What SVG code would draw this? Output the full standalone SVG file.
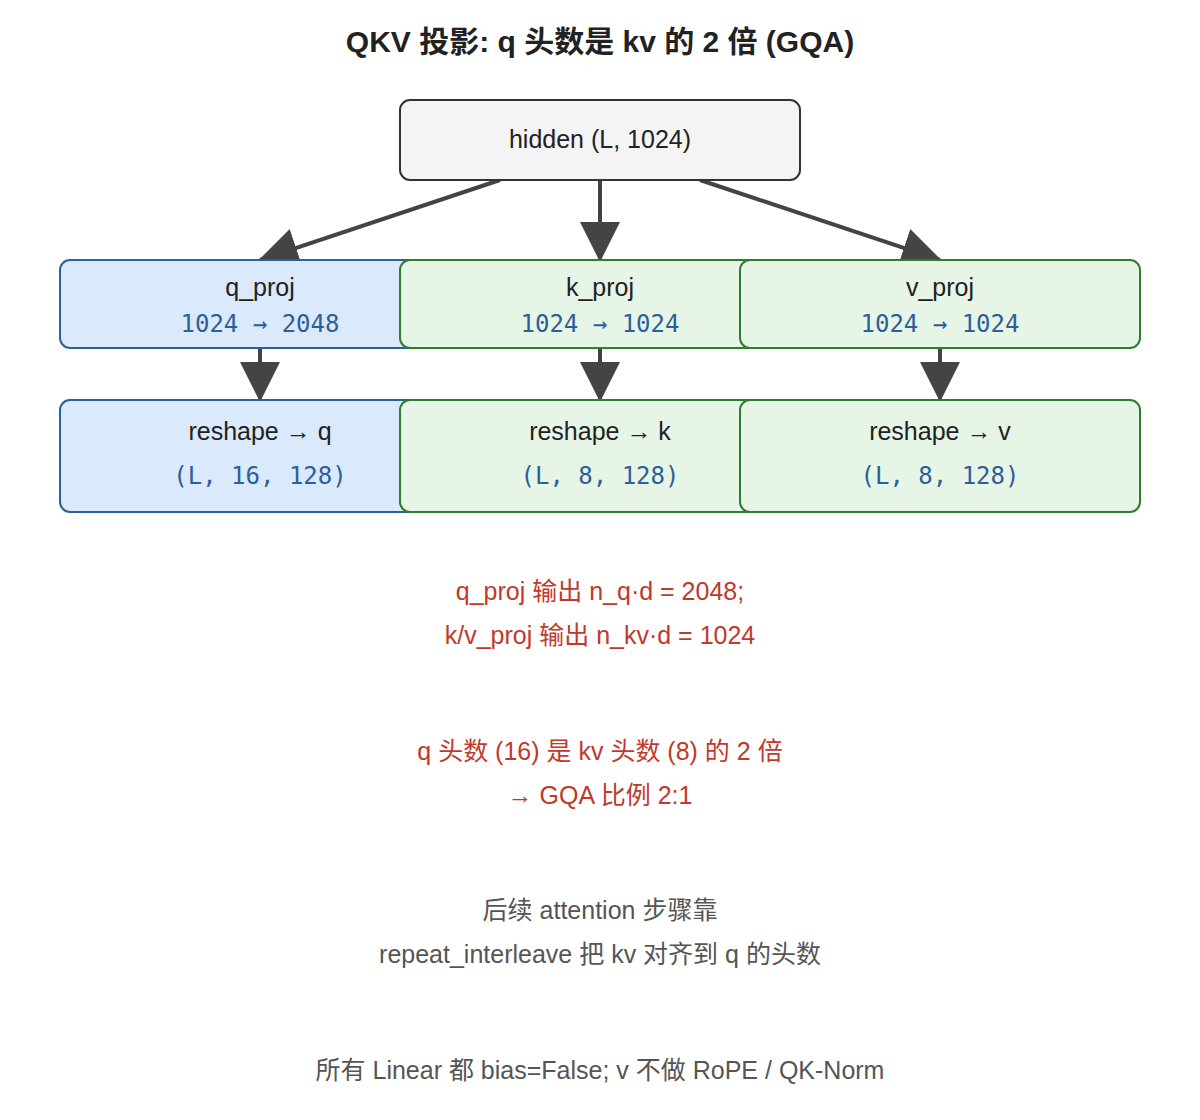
<svg xmlns="http://www.w3.org/2000/svg" width="1200" height="1120" viewBox="0 0 1200 1120">
<style>
.s{font-family:"Liberation Sans","Noto Sans CJK SC",sans-serif;}
.m{font-family:"DejaVu Sans Mono","Liberation Mono",monospace;fill:#2d5f9a;font-size:24px;}
.b{fill:#dae9fb;stroke:#2d5f9a;stroke-width:2;}
.g{fill:#e7f5e7;stroke:#2e7d32;stroke-width:2;}
.t{font-size:25px;fill:#222;}
.c{stroke:#444;stroke-width:4;fill:none;marker-end:url(#a);}
.r{fill:#c0392b;font-size:25px;}
.n{fill:#555;font-size:25px;}
</style>
<defs><marker id="a" markerUnits="userSpaceOnUse" markerWidth="40" markerHeight="40" refX="38" refY="20" orient="auto" viewBox="0 0 40 40"><path d="M0,0 L40,20 L0,40 Z" fill="#444"/></marker></defs>
<rect width="1200" height="1120" fill="#fff"/>
<text x="600" y="52" text-anchor="middle" class="s" font-size="30" font-weight="bold" fill="#222">QKV 投影: q 头数是 kv 的 2 倍 (GQA)</text>
<g id="connectors">
<path class="c" d="M500,180 L260,260"/>
<path class="c" d="M600,180 L600,260"/>
<path class="c" d="M700,180 L940,260"/>
<path class="c" d="M260,348 L260,400"/>
<path class="c" d="M600,348 L600,400"/>
<path class="c" d="M940,348 L940,400"/>
</g>
<g id="hidden"><rect x="400" y="100" width="400" height="80" rx="10" fill="#f4f4f4" stroke="#333" stroke-width="2"/><text x="600" y="148" text-anchor="middle" class="s t">hidden (L, 1024)</text></g>
<g id="q_proj"><rect class="b" x="60" y="260" width="400" height="88" rx="10"/><text x="260" y="296" text-anchor="middle" class="s t">q_proj</text><text x="260" y="332" text-anchor="middle" class="m">1024 → 2048</text></g>
<g id="k_proj"><rect class="g" x="400" y="260" width="400" height="88" rx="10"/><text x="600" y="296" text-anchor="middle" class="s t">k_proj</text><text x="600" y="332" text-anchor="middle" class="m">1024 → 1024</text></g>
<g id="v_proj"><rect class="g" x="740" y="260" width="400" height="88" rx="10"/><text x="940" y="296" text-anchor="middle" class="s t">v_proj</text><text x="940" y="332" text-anchor="middle" class="m">1024 → 1024</text></g>
<g id="q"><rect class="b" x="60" y="400" width="400" height="112" rx="10"/><text x="260" y="440" text-anchor="middle" class="s t">reshape → q</text><text x="260" y="484" text-anchor="middle" class="m">(L, 16, 128)</text></g>
<g id="k"><rect class="g" x="400" y="400" width="400" height="112" rx="10"/><text x="600" y="440" text-anchor="middle" class="s t">reshape → k</text><text x="600" y="484" text-anchor="middle" class="m">(L, 8, 128)</text></g>
<g id="v"><rect class="g" x="740" y="400" width="400" height="112" rx="10"/><text x="940" y="440" text-anchor="middle" class="s t">reshape → v</text><text x="940" y="484" text-anchor="middle" class="m">(L, 8, 128)</text></g>
<g class="s" text-anchor="middle">
<text x="600" y="600" class="r">q_proj 输出 n_q·d = 2048;</text>
<text x="600" y="644" class="r">k/v_proj 输出 n_kv·d = 1024</text>
<text x="600" y="760" class="r">q 头数 (16) 是 kv 头数 (8) 的 2 倍</text>
<text x="600" y="804" class="r">→ GQA 比例 2:1</text>
<text x="600" y="919" class="n">后续 attention 步骤靠</text>
<text x="600" y="963" class="n">repeat_interleave 把 kv 对齐到 q 的头数</text>
<text x="600" y="1079" class="n">所有 Linear 都 bias=False; v 不做 RoPE / QK-Norm</text>
</g>
</svg>
